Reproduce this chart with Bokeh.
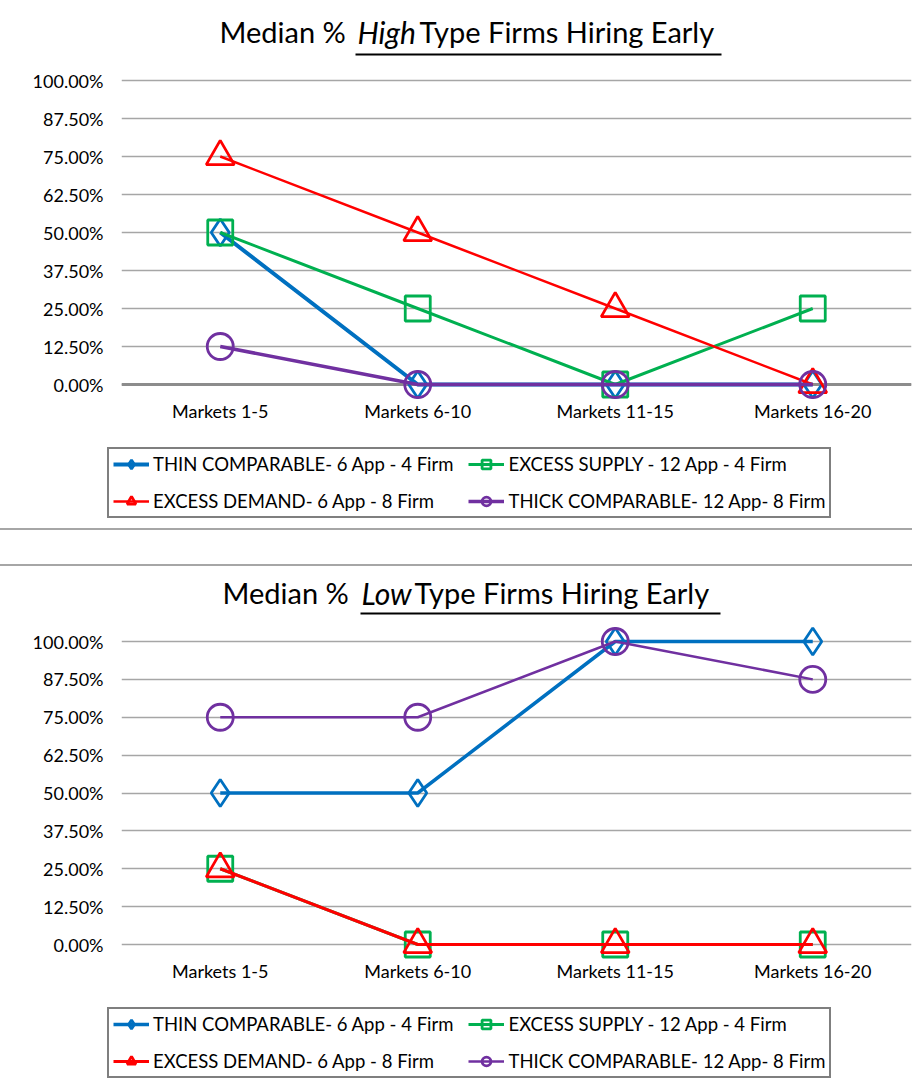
from bokeh.plotting import figure
from bokeh.models import (FactorRange, Range1d, FixedTicker, PrintfTickFormatter, Legend,
                          LegendItem, Label, BoxAnnotation, Span, Div, ColumnDataSource)
from bokeh.layouts import column
from bokeh.embed import file_html
from bokeh.resources import INLINE

# ---------------- data ----------------
markets = ["Markets 1-5", "Markets 6-10", "Markets 11-15", "Markets 16-20"]
y_ticks = [0, 12.5, 25, 37.5, 50, 62.5, 75, 87.5, 100]
series_names = ["THIN COMPARABLE- 6 App - 4 Firm", "EXCESS SUPPLY - 12 App - 4 Firm",
                "EXCESS DEMAND- 6 App - 8 Firm", "THICK COMPARABLE- 12 App- 8 Firm"]
series_colors = ["#0070C0", "#00B050", "#FF0000", "#7030A0"]
series_markers = ["diamond", "square", "triangle", "circle"]

high_thin = [50, 0, 0, 0]
high_supply = [50, 25, 0, 25]
high_demand = [75, 50, 25, 0]
high_thick = [12.5, 0, 0, 0]

low_thin = [50, 50, 100, 100]
low_supply = [25, 0, 0, 0]
low_demand = [25, 0, 0, 0]
low_thick = [75, 75, 100, 87.5]

FONT = "Lato"
W = 912
FRAME_LEFT = 121
SIZES = {"diamond": 27, "square": 25, "triangle": 28, "circle": 26}


def add_series(p, series, widths, visible=True):
    items = []
    for name, vals, color, marker, lw in zip(series_names, series, series_colors,
                                             series_markers, widths):
        src = ColumnDataSource(dict(x=markets, y=vals))
        rl = p.line("x", "y", source=src, line_color=color, line_width=lw, visible=visible)
        rm = p.scatter("x", "y", source=src, marker=marker, size=SIZES[marker],
                       line_color=color, line_width=2.8, fill_color=None, visible=visible)
        items.append(LegendItem(label=name, renderers=[rl, rm]))
    return items


def make_chart(word, series, widths, height, f_bottom, y0_px, y100_px,
               title_x, title_y, uline, zero_span):
    ppu = (y0_px - y100_px) / 100.0
    y_start = -(f_bottom - y0_px) / ppu
    y_end = 100 + y100_px / ppu
    p = figure(width=W, height=height, x_range=FactorRange(factors=markets),
               y_range=Range1d(y_start, y_end), output_backend="svg",
               toolbar_location=None, title=None,
               min_border_left=FRAME_LEFT, min_border_right=1,
               min_border_top=0, min_border_bottom=height - f_bottom)
    p.outline_line_color = None
    p.xgrid.grid_line_color = None
    p.ygrid.grid_line_color = "#a6a6a6"
    p.ygrid.grid_line_width = 1.5

    for ax in (p.xaxis[0], p.yaxis[0]):
        ax.axis_line_color = None
        ax.major_tick_line_color = None
        ax.minor_tick_line_color = None
        ax.major_tick_out = 0
        ax.minor_tick_out = 0
        ax.major_label_text_font = FONT
        ax.major_label_text_font_size = "18px"
        ax.major_label_text_color = "black"
    p.xaxis.major_label_standoff = 0
    p.yaxis.major_label_standoff = 18
    p.yaxis.ticker = FixedTicker(ticks=y_ticks)
    p.yaxis.formatter = PrintfTickFormatter(format="%.2f%%")

    if zero_span:
        sp = Span(location=0, dimension="width", line_color="#8c8c8c", line_width=3,
                  level="underlay")
        p.add_layout(sp)

    add_series(p, series, widths)

    # title pieces (screen units relative to frame)
    ty = f_bottom - title_y
    parts = [("Median %", "normal", "29px"), (word, "italic", "30px"),
             ("Type Firms Hiring Early", "normal", "29px")]
    for (txt, style, fs), tx in zip(parts, title_x):
        p.add_layout(Label(x=tx - FRAME_LEFT, y=ty, x_units="screen", y_units="screen",
                           text=txt, text_font=FONT, text_font_size=fs,
                           text_font_style=style, text_baseline="middle",
                           text_align="left", text_color="black"))
    ux0, ux1, uy = uline
    p.add_layout(BoxAnnotation(left=ux0 - FRAME_LEFT, right=ux1 - FRAME_LEFT,
                               bottom=f_bottom - uy - 1, top=f_bottom - uy + 1,
                               left_units="screen", right_units="screen",
                               bottom_units="screen", top_units="screen",
                               fill_color="black", fill_alpha=1, line_color=None))
    return p


def make_legend(series, widths, height, legend_bottom_gap):
    q = figure(width=W, height=height, x_range=FactorRange(factors=markets),
               y_range=Range1d(0, 100), output_backend="svg", toolbar_location=None,
               title=None, x_axis_location=None, y_axis_location=None,
               min_border=0, min_border_left=0, min_border_right=0,
               min_border_top=0, min_border_bottom=0, frame_align=False)
    q.outline_line_color = None
    q.grid.visible = False
    items = add_series(q, series, widths, visible=False)
    legend = Legend(items=items, location=(107, legend_bottom_gap),
                    orientation="horizontal", ncols=2,
                    label_text_font=FONT, label_text_font_size="18.5px",
                    label_text_color="black",
                    glyph_width=36, glyph_height=22, label_height=22,
                    label_standoff=4, padding=4, spacing=15, margin=0,
                    border_line_color="black", border_line_width=2,
                    background_fill_color="white", background_fill_alpha=1,
                    inactive_fill_alpha=0)
    q.add_layout(legend)
    return q


high = [high_thin, high_supply, high_demand, high_thick]
low = [low_thin, low_supply, low_demand, low_thick]
w_high = [4, 3, 2.5, 3.5]
w_low = [3.5, 3, 3, 2.5]

p1 = make_chart("High", high, w_high, 426, 399, 384, 80,
                (219, 357, 419), 31, (355, 721, 54), True)
l1 = make_legend(high, w_high, 102, 10)
p2 = make_chart("Low", low, w_low, 420, 393, 378, 75,
                (222, 361, 414), 26, (360, 720, 47), False)
l2 = make_legend(low, w_low, 98, 6)

sep = Div(text="", width=W, height=38, margin=0,
          styles={"border-top": "2px solid #a6a6a6", "border-bottom": "2px solid #a6a6a6",
                  "box-sizing": "border-box"})

layout = column(p1, l1, sep, p2, l2)
open("out.html", "w").write(file_html(layout, INLINE))
